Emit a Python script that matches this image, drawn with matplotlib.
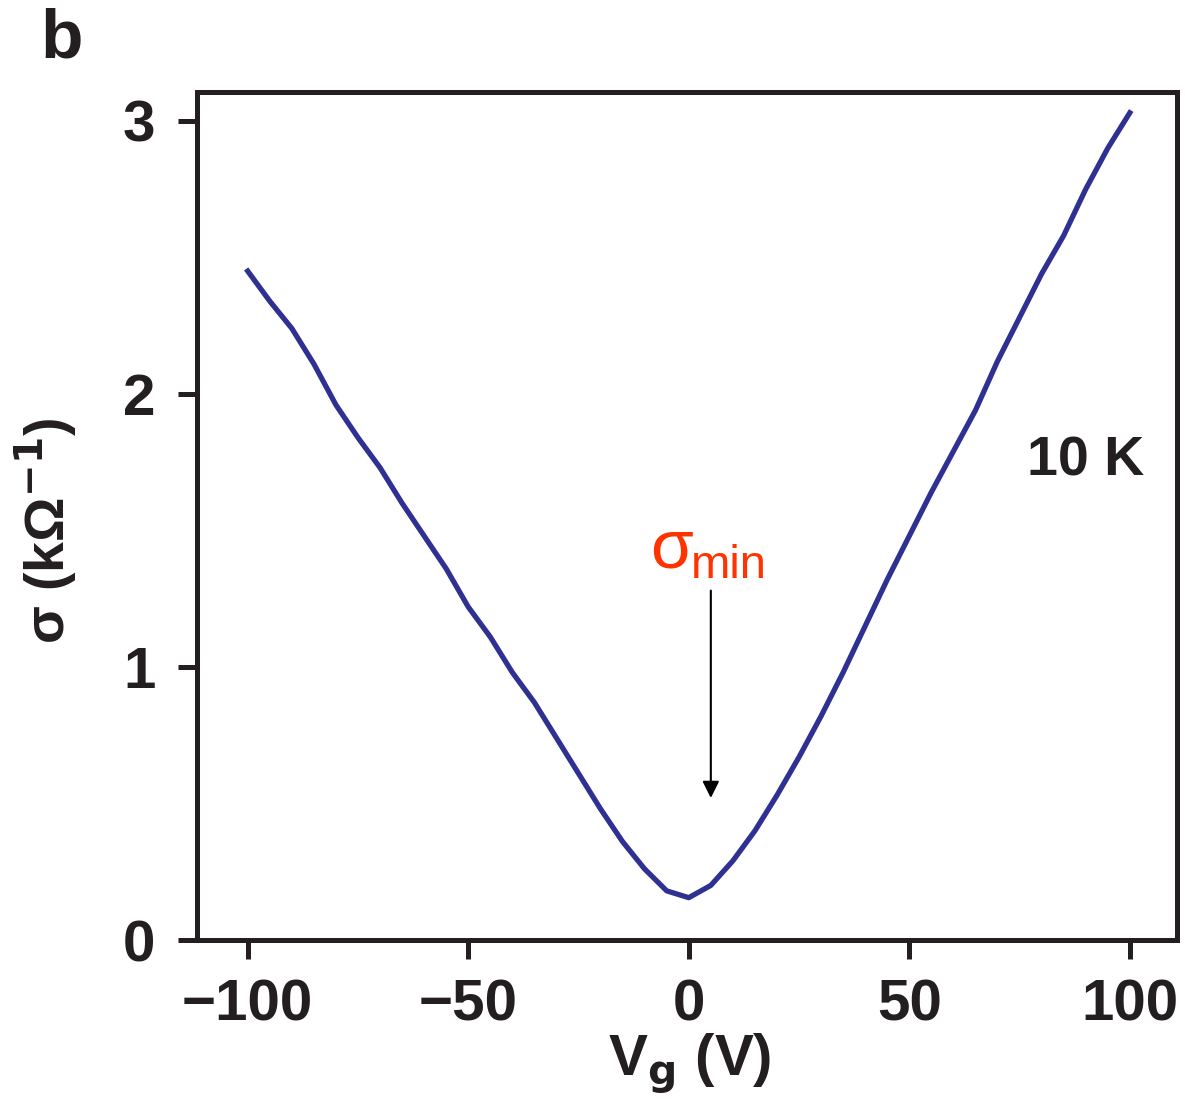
import matplotlib
matplotlib.use("Agg")
import matplotlib.pyplot as plt

# gate voltage (V) and conductivity (1/kOhm)
vg = [-100, -95, -90, -85, -80, -75, -70, -65, -60, -55, -50, -45, -40,
      -35, -30, -25, -20, -15, -10, -5, 0, 5, 10, 15, 20, 25, 30, 35,
      40, 45, 50, 55, 60, 65, 70, 75, 80, 85, 90, 95, 100]
sigma = [2.45, 2.34, 2.24, 2.11, 1.96, 1.84, 1.73, 1.60, 1.48, 1.36, 1.22, 1.11, 0.98,
         0.87, 0.74, 0.61, 0.48, 0.36, 0.26, 0.18, 0.155, 0.20, 0.29, 0.40, 0.53, 0.67, 0.82, 0.98,
         1.15, 1.32, 1.48, 1.64, 1.79, 1.94, 2.12, 2.28, 2.44, 2.58, 2.75, 2.90, 3.03]

xticks = [-100, -50, 0, 50, 100]
xticklabels = ["\u2212100", "\u221250", "0", "50", "100"]
yticks = [0, 1, 2, 3]

plt.rcParams['font.family'] = ['Liberation Sans', 'DejaVu Sans']
plt.rcParams['mathtext.fontset'] = 'dejavusans'

fig = plt.figure(figsize=(11.85, 11.02), dpi=100)
ax = fig.add_axes([197/1185, 1 - 940/1102, (1177-197)/1185, (940-92)/1102])

ax.plot(vg, sigma, color="#2e3192", lw=3.8)

ax.set_xlim(-111.5, 110.7)
ax.set_ylim(0, 3.106)
ax.set_xticks(xticks)
ax.set_yticks(yticks)
ax.set_xticklabels(xticklabels)
for s in ax.spines.values():
    s.set_linewidth(3.6)
    s.set_color("#231f20")
ax.tick_params(direction="out", length=14, width=3.6, color="#231f20",
               labelsize=42, labelcolor="#231f20")
ax.tick_params(axis="y", pad=16)
ax.tick_params(axis="x", pad=14)
for lab in ax.get_xticklabels() + ax.get_yticklabels():
    lab.set_fontweight("bold")

ax.set_xlabel(r"V$_\mathbf{g}$ (V)", fontsize=42, fontweight="bold", color="#231f20")
ax.xaxis.set_label_coords(0.503, -0.147)
ax.xaxis.label.set_verticalalignment("center")
ax.set_ylabel("σ (kΩ$^{\\mathbf{-1}}$)", fontsize=40, fontweight="bold", color="#231f20")
ax.yaxis.set_label_coords(-0.155, 0.483)
ax.yaxis.label.set_verticalalignment("center")
ax.yaxis.label.set_horizontalalignment("center")

ax.text(1086, 1102 - 462, "10 K", transform=None, fontsize=40, fontweight="bold",
        ha="center", va="center", color="#231f20")
fig.text(62/1185, 1 - 57/1102, "b", fontsize=50, fontweight="bold",
         ha="center", va="baseline", color="#231f20")

# sigma_min annotation
ax.annotate("", xy=(5, 0.51), xytext=(5, 1.29),
            arrowprops=dict(arrowstyle="-|>", color="black", lw=1.5,
                            mutation_scale=25))
ax.text(-4, 1.43, "σ", color="#ff3300", fontsize=50, ha="center", va="center")
ax.text(9, 1.37, "min", color="#ff3300", fontsize=34, ha="center", va="center")

fig.savefig("out.png", dpi=100)
